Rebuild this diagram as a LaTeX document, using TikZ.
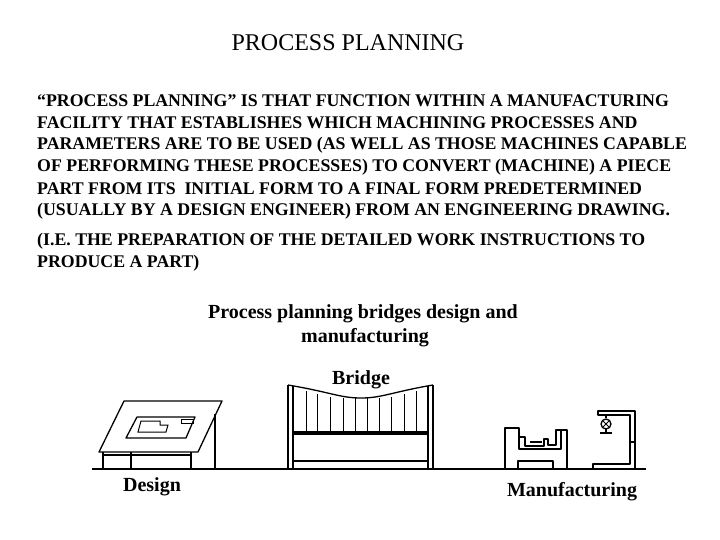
\documentclass[tikz,border=0pt]{standalone}
\usepackage{fontspec}
\setmainfont{Liberation Serif}
\begin{document}
\begin{tikzpicture}[x=1pt,y=-1pt,
  body/.style={anchor=west,inner sep=0,font=\fontsize{17.8}{20}\selectfont\bfseries},
  lbl/.style={inner sep=0,font=\fontsize{20}{22}\selectfont\bfseries,align=center},
  ln/.style={line width=1.3pt,line join=round}]
\useasboundingbox (0,0) rectangle (720,540);
\node[inner sep=0,font=\fontsize{24}{26}\selectfont] (title) at (348,43) {PROCESS PLANNING};
\node[body] (l1) at (37,101) {“PROCESS PLANNING” IS THAT FUNCTION WITHIN A MANUFACTURING};
\node[body] (l2) at (37,123) {FACILITY THAT ESTABLISHES WHICH MACHINING PROCESSES AND};
\node[body] (l3) at (37,145) {PARAMETERS ARE TO BE USED (AS WELL AS THOSE MACHINES CAPABLE};
\node[body] (l4) at (37,167) {OF PERFORMING THESE PROCESSES) TO CONVERT (MACHINE) A PIECE};
\node[body] (l5) at (37,189) {PART FROM ITS\ \ INITIAL FORM TO A FINAL FORM PREDETERMINED};
\node[body] (l6) at (37,211) {(USUALLY BY A DESIGN ENGINEER) FROM AN ENGINEERING DRAWING.};
\node[body] (l7) at (37,241) {(I.E. THE PREPARATION OF THE DETAILED WORK INSTRUCTIONS TO};
\node[body] (l8) at (37,263) {PRODUCE A PART)};
\node[lbl] (pp1) at (363,314) {Process planning bridges design and};
\node[lbl] (pp2) at (365,338) {manufacturing};
\node[lbl] (bridge) at (361,380) {Bridge};
\node[lbl] (design) at (152,487) {Design};
\node[lbl] (manu) at (572,492) {Manufacturing};
% ground
\draw[ln] (92,469) -- (646,469);
% drafting table
\draw[ln] (124,401) -- (222,401) -- (198,452) -- (99,452) -- cycle;
\draw[ln] (137,417) -- (195,417) -- (186,438) -- (126,438) -- cycle;
\draw[line width=1pt] (141,421) -- (160,421) -- (160,425) -- (168,425) -- (166,432) -- (138,432) -- cycle;
\draw[line width=0.8pt] (181,419) rectangle (193,423);
\draw[line width=2pt] (103,452) -- (103,469) (131,452) -- (131,469) (191,452) -- (191,469);
\draw[ln] (103,455) -- (191,455);
\draw[line width=2.5pt] (215,414) -- (215,469);
% bridge
\draw[ln] (288,385) -- (288,469) (293,386) -- (293,469);
\draw[ln] (433,385) -- (433,469) (428,386) -- (428,469);
\draw[ln] (288,385) .. controls (330,392) and (340,398) .. (361,398) .. controls (382,398) and (392,392) .. (433,385);
\draw[ln] (293,432) -- (428,432) (293,434) -- (428,434) (293,461) -- (428,461);
\foreach \x/\t in {306/391,317/394,330/397,343/398,355/398,367/398,379/398,391/397,404/394,416/391}
  \draw[line width=1pt] (\x,\t) -- (\x,432);
% lathe
\draw[ln] (505,469) -- (505,428) -- (519,428) -- (519,437) -- (525,437) -- (525,446) -- (544,446) -- (544,439) -- (548,439) -- (548,445) -- (556,445) -- (556,430) -- (567,430) -- (567,469);
\draw[ln] (519,437) -- (519,449) -- (561,449) -- (561,430);
\draw[ln] (518,469) -- (518,461) -- (553,461) -- (553,469);
\draw[ln] (530,442) -- (542,442);
% column machine
\draw[ln] (598,415) -- (598,411) -- (635,411) -- (635,469) -- (593,469) -- (593,464) -- (630,464) -- (630,415) -- cycle;
\draw[ln] (630,442) -- (635,442);
\draw[ln] (606,415) -- (606,418);
\draw[ln] (606,424) circle (5);
\draw[line width=0.8pt] (603,421) -- (609,427) (609,421) -- (603,427);
\draw[ln] (600,433) -- (612,433) (606,429) -- (606,433);
\end{tikzpicture}
\end{document}
